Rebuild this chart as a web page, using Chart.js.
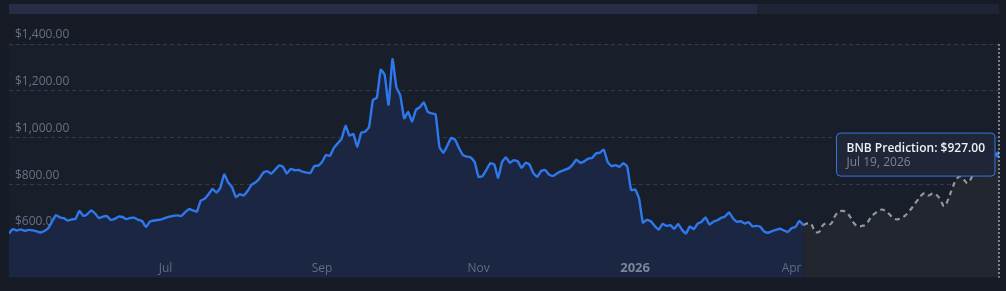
<!DOCTYPE html>
<html>
<head>
<meta charset="utf-8">
<title>BNB price prediction</title>
<script src="https://cdn.jsdelivr.net/npm/chart.js@4.4.1/dist/chart.umd.min.js"></script>
<style>
    html, body { margin: 0; padding: 0; background: #161b25; }
    #wrap { position: relative; width: 1006px; height: 291px; }
    #nav { position: absolute; left: 9px; top: 4px; width: 990px; height: 10px; background: #1f2434; }
    #nav .sel { position: absolute; left: 0; top: 0; width: 748px; height: 10px; background: #262d45; }
    canvas { position: absolute; left: 0; top: 0; }
</style>
</head>
<body>
<div id="wrap">
    <div id="nav"><div class="sel"></div></div>
    <canvas id="bnbChart" width="1006" height="291"></canvas>
</div>
<script>
// historical closes, one sample per step on the ordinal axis
const histPrices = [
    590, 608, 602, 607, 601, 605, 603, 599, 594, 600,
    612, 640, 668, 658, 655, 645, 650, 652, 686, 665,
    672, 688, 675, 655, 662, 664, 648, 652, 662, 660,
    651, 656, 657, 648, 643, 618, 640, 645, 647, 650,
    656, 662, 665, 667, 664, 680, 694, 688, 683, 730,
    738, 757, 780, 765, 785, 842, 808, 788, 745, 758,
    752, 772, 798, 808, 825, 850, 856, 845, 862, 880,
    875, 846, 866, 860, 861, 854, 850, 848, 878, 880,
    895, 925, 922, 955, 975, 995, 1050, 1008, 1015, 960,
    1020, 1025, 1045, 1160, 1170, 1290, 1268, 1140, 1335, 1215,
    1180, 1082, 1110, 1068, 1118, 1130, 1150, 1110, 1103, 1100,
    960, 935, 965, 998, 990, 955, 925, 918, 915, 895,
    832, 835, 862, 890, 885, 828, 895, 915, 892, 903,
    898, 870, 892, 885, 848, 832, 857, 861, 842, 836,
    846, 855, 862, 868, 883, 905, 892, 898, 910, 912,
    932, 935, 948, 895, 878, 882, 875, 890, 875, 775,
    778, 740, 636, 648, 642, 622, 606, 630, 622, 625,
    610, 630, 605, 590, 620, 608, 632, 640, 658, 628,
    640, 646, 656, 662, 680, 655, 640, 642, 632, 638,
    620, 622, 618, 598, 592, 600, 605, 610, 603, 596,
    612, 618, 643, 625
];

// forecast, starts on the last historical sample
const predPrices = [
    625, 633, 630, 598, 596, 625, 634, 630, 662, 682,
    686, 680, 660, 632, 620, 622, 628, 652, 672, 684,
    692, 686, 672, 655, 650, 655, 666, 684, 705, 728,
    750, 762, 752, 760, 755, 735, 706, 735, 780, 818,
    834, 820, 805, 830, 870, 893, 902, 910, 920, 928,
    927
];
const predLastDate = 'Jul 19, 2026';

const tickLabels = ['Jul', 'Sep', 'Nov', '2026', 'Apr'];
const tickIndex = [40, 80, 120, 160, 200];
const yTicks = [600, 800, 1000, 1200, 1400];

const predStart = histPrices.length - 1;
const histData = histPrices.map((v, i) => ({ x: i, y: v }));
const predData = predPrices.map((v, i) => ({ x: predStart + i, y: v }));

Chart.defaults.font.family = "'Open Sans', 'DejaVu Sans', sans-serif";

const money = v => '$' + v.toLocaleString('en-US', { minimumFractionDigits: 2, maximumFractionDigits: 2 });

// plot background + month labels drawn inside the plot
const plotDecor = {
    id: 'plotDecor',
    beforeDraw(chart) {
        const { ctx, chartArea: a } = chart;
        ctx.save();
        ctx.fillStyle = '#181f2b';
        ctx.fillRect(a.left, a.top, a.right - a.left, a.bottom - a.top);
        ctx.restore();
    },
    afterDatasetsDraw(chart) {
        const { ctx, chartArea: a } = chart;
        const xs = chart.scales.x;
        ctx.save();
        ctx.textAlign = 'center';
        ctx.textBaseline = 'alphabetic';
        tickLabels.forEach((lab, k) => {
            const bold = /^\d{4}$/.test(lab);
            ctx.font = (bold ? '700 13px ' : '400 12px ') + Chart.defaults.font.family;
            ctx.fillStyle = bold ? '#7b8699' : '#616c80';
            ctx.fillText(lab, xs.getPixelForValue(tickIndex[k]), a.bottom - 6);
        });

        // crosshair on the hovered point
        const act = chart.getActiveElements();
        if (act.length) {
            const px = act[0].element.x;
            ctx.strokeStyle = 'rgba(190,195,205,0.8)';
            ctx.lineWidth = 1.5;
            ctx.setLineDash([2, 2]);
            ctx.beginPath();
            ctx.moveTo(px, a.top);
            ctx.lineTo(px, a.bottom);
            ctx.stroke();
        }
        ctx.restore();
    }
};

const chart = new Chart(document.getElementById('bnbChart'), {
    type: 'line',
    data: {
        datasets: [{
            label: 'BNB',
            data: histData,
            borderColor: '#2f78ec',
            backgroundColor: '#1a2642',
            borderWidth: 2.4,
            fill: 'start',
            tension: 0.15,
            pointRadius: 0,
            pointHoverRadius: 0
        }, {
            label: 'BNB Prediction',
            data: predData,
            borderColor: '#94979c',
            backgroundColor: '#22262f',
            borderWidth: 2.2,
            borderDash: [5, 4],
            fill: 'start',
            tension: 0.4,
            pointRadius: 0,
            pointHoverRadius: 3,
            pointHoverBackgroundColor: '#2f78ec',
            pointHoverBorderColor: '#2f78ec',
            pointHoverBorderWidth: 1
        }]
    },
    options: {
        responsive: false,
        animation: false,
        events: [],
        layout: { padding: { left: 9, right: 7, top: 44, bottom: 12 } },
        scales: {
            x: {
                type: 'linear',
                display: false,
                min: 0,
                max: histPrices.length + predPrices.length - 2
            },
            y: {
                min: 400,
                max: 1400,
                afterFit: s => { s.width = 0; },
                afterBuildTicks: s => { s.ticks = [400].concat(yTicks).map(v => ({ value: v })); },
                border: { display: false, dash: [4, 3] },
                grid: {
                    drawTicks: false,
                    color: c => c.tick && c.tick.value === 400 ? 'transparent' : '#313b4a',
                    lineWidth: 1
                },
                ticks: {
                    mirror: true,
                    padding: 6,
                    labelOffset: -9,
                    color: '#667285',
                    font: { size: 12 },
                    callback: v => v === 400 ? '' : money(v)
                }
            }
        },
        plugins: {
            legend: { display: false },
            tooltip: {
                enabled: true,
                xAlign: 'right',
                yAlign: 'center',
                caretSize: 0,
                caretPadding: 4,
                backgroundColor: '#1e2637',
                borderColor: '#3a74e0',
                borderWidth: 1,
                cornerRadius: 4,
                displayColors: false,
                padding: { top: 9, bottom: 7, left: 10, right: 10 },
                titleColor: '#eef1f5',
                titleFont: { size: 12, weight: '600', lineHeight: 1.15 },
                titleMarginBottom: 0,
                bodyColor: '#7a8596',
                bodyFont: { size: 12, lineHeight: 1.1 },
                callbacks: {
                    title: items => items[0].dataset.label + ': ' + money(items[0].parsed.y),
                    label: () => predLastDate
                }
            }
        }
    },
    plugins: [plotDecor]
});

const lastPoint = [{ datasetIndex: 1, index: predPrices.length - 1 }];
chart.setActiveElements(lastPoint);
chart.tooltip.setActiveElements(lastPoint, { x: 0, y: 0 });
chart.update('none');
</script>
</body>
</html>
